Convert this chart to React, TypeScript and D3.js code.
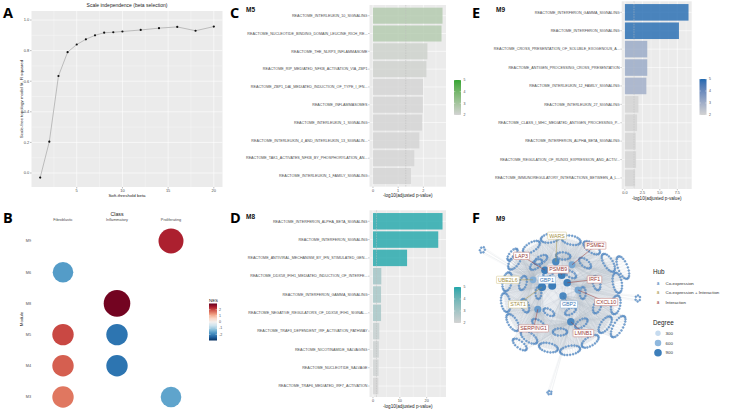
import React from 'react';
import * as d3 from 'd3';

const FONT = "'Liberation Sans', Arial, Helvetica, sans-serif";

// ---------- Panel A data ----------
const betaValues = [1, 2, 3, 4, 5, 6, 7, 8, 9, 10, 12, 14, 16, 18, 20];
const rSquared = [-0.03, 0.205, 0.634, 0.79, 0.84, 0.874, 0.9, 0.917, 0.92, 0.925, 0.935, 0.947, 0.955, 0.93, 0.957];
const betaTicks = [5, 10, 15, 20];
const rsqTicks = [0, 0.2, 0.4, 0.6, 0.8, 1.0];

// ---------- Panel B data ----------
const classNames = ['Fibroblastic', 'Inflammatory', 'Proliferating'];
const moduleNames = ['M9', 'M6', 'M8', 'M5', 'M4', 'M3'];
const dotModule = ['M9', 'M6', 'M8', 'M5', 'M5', 'M4', 'M4', 'M3', 'M3'];
const dotClass = ['Proliferating', 'Fibroblastic', 'Inflammatory', 'Fibroblastic', 'Inflammatory', 'Fibroblastic', 'Inflammatory', 'Fibroblastic', 'Proliferating'];
const dotNES = [2.4, -1.7, 2.9, 2.0, -2.2, 1.8, -2.2, 1.6, -1.6];
const dotSig = [3.53, 2.4, 4.0, 2.59, 2.59, 2.59, 2.59, 2.59, 2.4];
const nesTicks = [2, 1, 0, -1, -2];

// ---------- Panel C data (M5) ----------
const m5Pathways = [
  'REACTOME_INTERLEUKIN_10_SIGNALING',
  'REACTOME_NUCLEOTIDE_BINDING_DOMAIN_LEUCINE_RICH_RE...',
  'REACTOME_THE_NLRP3_INFLAMMASOME',
  'REACTOME_RIP_MEDIATED_NFKB_ACTIVATION_VIA_ZBP1',
  'REACTOME_ZBP1_DAI_MEDIATED_INDUCTION_OF_TYPE_I_IFN...',
  'REACTOME_INFLAMMASOMES',
  'REACTOME_INTERLEUKIN_1_SIGNALING',
  'REACTOME_INTERLEUKIN_4_AND_INTERLEUKIN_13_SIGNALIN...',
  'REACTOME_TAK1_ACTIVATES_NFKB_BY_PHOSPHORYLATION_AN...',
  'REACTOME_INTERLEUKIN_1_FAMILY_SIGNALING',
];
const m5Values = [2.76, 2.72, 2.16, 2.12, 1.99, 1.98, 1.95, 1.84, 1.64, 1.51];
const m5Ticks = [0, 1, 2];

// ---------- Panel D data (M8) ----------
const m8Pathways = [
  'REACTOME_INTERFERON_ALPHA_BETA_SIGNALING',
  'REACTOME_INTERFERON_SIGNALING',
  'REACTOME_ANTIVIRAL_MECHANISM_BY_IFN_STIMULATED_GEN...',
  'REACTOME_DDX58_IFIH1_MEDIATED_INDUCTION_OF_INTERFE...',
  'REACTOME_INTERFERON_GAMMA_SIGNALING',
  'REACTOME_NEGATIVE_REGULATORS_OF_DDX58_IFIH1_SIGNAL...',
  'REACTOME_TRAF3_DEPENDENT_IRF_ACTIVATION_PATHWAY',
  'REACTOME_NICOTINAMIDE_SALVAGING',
  'REACTOME_NUCLEOTIDE_SALVAGE',
  'REACTOME_TRAF6_MEDIATED_IRF7_ACTIVATION',
];
const m8Values = [25.9, 24.3, 12.7, 3.1, 3.0, 3.0, 2.35, 2.2, 2.1, 2.0];
const m8Ticks = [0, 10, 20];

// ---------- Panel E data (M9) ----------
const m9Pathways = [
  'REACTOME_INTERFERON_GAMMA_SIGNALING',
  'REACTOME_INTERFERON_SIGNALING',
  'REACTOME_CROSS_PRESENTATION_OF_SOLUBLE_EXOGENOUS_A...',
  'REACTOME_ANTIGEN_PROCESSING_CROSS_PRESENTATION',
  'REACTOME_INTERLEUKIN_12_FAMILY_SIGNALING',
  'REACTOME_INTERLEUKIN_27_SIGNALING',
  'REACTOME_CLASS_I_MHC_MEDIATED_ANTIGEN_PROCESSING_P...',
  'REACTOME_INTERFERON_ALPHA_BETA_SIGNALING',
  'REACTOME_REGULATION_OF_RUNX3_EXPRESSION_AND_ACTIV...',
  'REACTOME_IMMUNOREGULATORY_INTERACTIONS_BETWEEN_A_L...',
];
const m9Values = [9.1, 7.73, 3.2, 3.2, 3.07, 1.93, 1.75, 1.56, 1.6, 1.46];
const m9Ticks = [0, 2.5, 5, 7.5];
const legendTicks = [5, 4, 3, 2];

// ---------- Panel F data (M9 network) ----------
const hubNames = ['WARS', 'PSME2', 'LAP3', 'PSMB9', 'UBE2L6', 'GBP1', 'IRF1', 'STAT1', 'GBP2', 'CXCL10', 'SERPING1', 'LMNB1'];
const hubTypes = ['Co-expression + Interaction', 'Interaction', 'Interaction', 'Interaction', 'Co-expression + Interaction', 'Co-expression', 'Interaction', 'Co-expression + Interaction', 'Co-expression', 'Interaction', 'Interaction', 'Interaction'];
const hubDegree = [850, 700, 900, 950, 650, 1000, 900, 1050, 850, 700, 750, 850];
const hubNodeU = [-0.07, 0.2, -0.25, 0.03, -0.45, -0.13, 0.12, -0.3, 0.05, 0.3, -0.37, 0.18];
const hubNodeV = [-0.52, -0.47, -0.38, -0.3, -0.22, -0.12, -0.17, -0.1, 0.05, -0.05, 0.27, 0.48];
const hubLabelU = [-0.05, 0.59, -0.64, -0.03, -0.87, -0.22, 0.575, -0.7, 0.15, 0.77, -0.44, 0.39];
const hubLabelV = [-0.955, -0.79, -0.62, -0.39, -0.22, -0.22, -0.225, 0.19, 0.19, 0.15, 0.59, 0.67];
// communities (angle in degrees, distance, tangential half-span, radial half-depth, node count)
const commAngle = [-100, -78, -55, -32, -10, 12, 35, 58, 80, 102, 125, 148, 170, 192, 215, 238, -120, -85, -50, -15, 20, 55, 90, 125, 160, 195, 230, -60, 0, 60, 120, 180, 240, -22, 30, -141, 128, -151, 96, 4];
const commDist = [0.93, 0.9, 0.92, 0.95, 0.97, 0.95, 0.92, 0.95, 0.97, 0.93, 0.9, 0.93, 0.92, 0.9, 0.92, 0.9, 0.64, 0.62, 0.65, 0.63, 0.66, 0.62, 0.65, 0.63, 0.62, 0.64, 0.62, 0.36, 0.38, 0.35, 0.37, 0.36, 0.38, 1.13, 1.12, 1.02, 1.09, 1.48, 1.67, 1.3];
const commSpan = [0.16, 0.16, 0.16, 0.17, 0.17, 0.16, 0.16, 0.16, 0.17, 0.16, 0.16, 0.16, 0.16, 0.16, 0.16, 0.16, 0.12, 0.12, 0.12, 0.12, 0.12, 0.12, 0.12, 0.12, 0.12, 0.12, 0.12, 0.1, 0.1, 0.1, 0.1, 0.1, 0.1, 0.2, 0.2, 0.12, 0.14, 0.05, 0.035, 0.05];
const commDepth = [0.075, 0.075, 0.075, 0.075, 0.075, 0.075, 0.075, 0.075, 0.075, 0.075, 0.075, 0.075, 0.075, 0.075, 0.075, 0.075, 0.06, 0.06, 0.06, 0.06, 0.06, 0.06, 0.06, 0.06, 0.06, 0.06, 0.06, 0.05, 0.05, 0.05, 0.05, 0.05, 0.05, 0.08, 0.08, 0.05, 0.06, 0.04, 0.03, 0.04];
const commSize = [20, 20, 20, 21, 21, 20, 20, 20, 21, 20, 20, 20, 20, 20, 20, 20, 15, 15, 15, 15, 15, 15, 15, 15, 15, 15, 15, 12, 12, 12, 12, 12, 12, 22, 22, 14, 16, 6, 5, 6];
const hubCategories = ['Co-expression', 'Co-expression + Interaction', 'Interaction'];
const degreeLegend = [300, 600, 900];

const typeText: Record<string, string> = { 'Co-expression': '#3A78B5', 'Co-expression + Interaction': '#A89244', 'Interaction': '#9A3B36' };
const typeBorder: Record<string, string> = { 'Co-expression': '#82ACD6', 'Co-expression + Interaction': '#D2C387', 'Interaction': '#C57A75' };

let measureCtx: CanvasRenderingContext2D | null = null;
function textWidth(s: string, size: number) {
  if (!measureCtx) measureCtx = document.createElement('canvas').getContext('2d');
  if (!measureCtx) return s.length * size * 0.6;
  measureCtx.font = `${size}px 'Liberation Sans', Arial, sans-serif`;
  return measureCtx.measureText(s).width;
}

function PanelA() {
  const x = d3.scaleLinear().domain([0.05, 20.95]).range([31.5, 222.5]);
  const y = d3.scaleLinear().domain([-0.0915, 1.059]).range([187, 11]);
  const xMinor = [2.5, 7.5, 12.5, 17.5];
  const yMinor = [0.1, 0.3, 0.5, 0.7, 0.9];
  const line = d3.line<number>().x((_, i) => x(betaValues[i])).y((d) => y(d));
  const [x0, x1] = x.range();
  const [y1, y0] = y.range();
  return (
    <g>
      <rect x={x0} y={y0} width={x1 - x0} height={y1 - y0} fill="#EBEBEB" />
      {xMinor.map((v) => <line key={'xm' + v} x1={x(v)} x2={x(v)} y1={y0} y2={y1} stroke="#fff" strokeWidth={0.3} />)}
      {yMinor.map((v) => <line key={'ym' + v} x1={x0} x2={x1} y1={y(v)} y2={y(v)} stroke="#fff" strokeWidth={0.3} />)}
      {betaTicks.map((v) => <line key={'xt' + v} x1={x(v)} x2={x(v)} y1={y0} y2={y1} stroke="#fff" strokeWidth={0.6} />)}
      {rsqTicks.map((v) => <line key={'yt' + v} x1={x0} x2={x1} y1={y(v)} y2={y(v)} stroke="#fff" strokeWidth={0.6} />)}
      <path d={line(rSquared) || ''} fill="none" stroke="#9A9A9A" strokeWidth={0.6} />
      {rSquared.map((d, i) => <circle key={i} cx={x(betaValues[i])} cy={y(d)} r={1.1} fill="#111" />)}
      {rsqTicks.map((v) => (
        <g key={'yl' + v}>
          <line x1={x0 - 1.5} x2={x0} y1={y(v)} y2={y(v)} stroke="#555" strokeWidth={0.4} />
          <text x={x0 - 2.3} y={y(v)} dy="0.35em" textAnchor="end" fontSize={4} fill="#4D4D4D">{v.toFixed(1)}</text>
        </g>
      ))}
      {betaTicks.map((v) => (
        <g key={'xl' + v}>
          <line x1={x(v)} x2={x(v)} y1={y1} y2={y1 + 1.5} stroke="#555" strokeWidth={0.4} />
          <text x={x(v)} y={y1 + 3.5} dy="0.35em" textAnchor="middle" fontSize={4} fill="#4D4D4D">{v}</text>
        </g>
      ))}
      <text x={(x0 + x1) / 2} y={195.2} dy="0.35em" textAnchor="middle" fontSize={4.4} fill="#222">Soft-threshold beta</text>
      <text transform={`translate(21,${(y0 + y1) / 2}) rotate(-90)`} dy="0.35em" textAnchor="middle" fontSize={4.4} fill="#222">Scale-free topology model fit, R squared</text>
      <text x={(x0 + x1) / 2} y={5.6} dy="0.35em" textAnchor="middle" fontSize={5} fill="#222">Scale independence (beta selection)</text>
    </g>
  );
}

function PanelB() {
  const x = d3.scalePoint<string>().domain(classNames).range([63, 171]);
  const y = d3.scalePoint<string>().domain(moduleNames).range([241, 397]);
  const r = d3.scaleSqrt().domain([0, 4]).range([0, 13.3]);
  const color = (v: number) => d3.interpolateRdBu((3 - v) / 6);
  const ly = d3.scaleLinear().domain([3, -3]).range([303.5, 340.5]);
  const stops = d3.range(0, 1.0001, 0.1);
  return (
    <g>
      <defs>
        <linearGradient id="nesGrad" x1="0" y1="0" x2="0" y2="1">
          {stops.map((t) => <stop key={t} offset={t} stopColor={d3.interpolateRdBu(t)} />)}
        </linearGradient>
      </defs>
      <text x={117} y={214} dy="0.35em" textAnchor="middle" fontSize={5.2} fill="#222">Class</text>
      {classNames.map((c) => (
        <text key={c} x={x(c)} y={219.5} dy="0.35em" textAnchor="middle" fontSize={3.8} fill="#4D4D4D">{c}</text>
      ))}
      {moduleNames.map((m) => (
        <text key={m} x={31} y={y(m)} dy="0.35em" textAnchor="end" fontSize={3.8} fill="#4D4D4D">{m}</text>
      ))}
      <text transform={`translate(21,319) rotate(-90)`} dy="0.35em" textAnchor="middle" fontSize={4.4} fill="#222">Module</text>
      {dotNES.map((v, i) => (
        <circle key={i} cx={x(dotClass[i])} cy={y(dotModule[i])} r={r(dotSig[i])} fill={color(v)} />
      ))}
      <text x={209} y={300.5} dy="0.35em" fontSize={4.4} fill="#222">NES</text>
      <rect x={209} y={303.5} width={8} height={37} fill="url(#nesGrad)" />
      {nesTicks.map((t) => (
        <g key={t}>
          <line x1={209} x2={210.5} y1={ly(t)} y2={ly(t)} stroke="#fff" strokeWidth={0.4} />
          <line x1={215.5} x2={217} y1={ly(t)} y2={ly(t)} stroke="#fff" strokeWidth={0.4} />
          <text x={219} y={ly(t)} dy="0.35em" fontSize={3.6} fill="#4D4D4D">{t}</text>
        </g>
      ))}
    </g>
  );
}

type BarProps = {
  id: string; title: string; labels: string[]; values: number[];
  x0: number; x1: number; y0: number; y1: number; ticks: number[];
  fmt: (v: number) => string; hi: string; lx: number; ly0: number; ly1: number;
  tx: number; ty: number;
};

function BarPanel(p: BarProps) {
  const { id, title, labels, values, x0, x1, y0, y1, ticks, fmt, hi, lx, ly0, ly1, tx, ty } = p;
  const max = d3.max(values) as number;
  const x = d3.scaleLinear().domain([-0.05 * max, 1.05 * max]).range([x0, x1]);
  const y = d3.scaleBand<string>().domain(labels).range([y0, y1]).paddingInner(0.1).paddingOuter(0.15);
  const fill = d3.scaleLinear<string>().domain([2, 5]).range(['#D3D3D3', hi]).interpolate(d3.interpolateLab).clamp(true);
  const step = ticks[1] - ticks[0];
  const [d0, d1] = x.domain();
  const minor = ticks.map((t) => t + step / 2).concat([ticks[0] - step / 2]).filter((v) => v > d0 && v < d1);
  const ls = d3.scaleLinear().domain([2, 5]).range([ly1, ly0]);
  const bw = y.bandwidth();
  const gstops = d3.range(0, 1.0001, 0.1);
  return (
    <g>
      <defs>
        <linearGradient id={id} x1="0" y1="1" x2="0" y2="0">
          {gstops.map((t) => <stop key={t} offset={t} stopColor={fill(2 + 3 * t)} />)}
        </linearGradient>
      </defs>
      <text x={tx} y={ty} dy="0.35em" fontSize={6.5} fontWeight="bold" fill="#111">{title}</text>
      <rect x={x0} y={y0} width={x1 - x0} height={y1 - y0} fill="#EBEBEB" />
      {minor.map((v) => <line key={'m' + v} x1={x(v)} x2={x(v)} y1={y0} y2={y1} stroke="#fff" strokeWidth={0.3} />)}
      {ticks.map((v) => <line key={'t' + v} x1={x(v)} x2={x(v)} y1={y0} y2={y1} stroke="#fff" strokeWidth={0.6} />)}
      {labels.map((l) => <line key={'h' + l} x1={x0} x2={x1} y1={(y(l) as number) + bw / 2} y2={(y(l) as number) + bw / 2} stroke="#fff" strokeWidth={0.6} />)}
      {labels.map((l, i) => (
        <rect key={'b' + l} x={x(0)} y={y(l)} width={x(values[i]) - x(0)} height={bw} fill={fill(values[i])} fillOpacity={0.8} />
      ))}
      <line x1={x(1.301)} x2={x(1.301)} y1={y0} y2={y1} stroke="#BDBDBD" strokeWidth={0.5} strokeDasharray="1.5,1" />
      {labels.map((l) => (
        <g key={'l' + l}>
          <line x1={x0 - 1.3} x2={x0} y1={(y(l) as number) + bw / 2} y2={(y(l) as number) + bw / 2} stroke="#555" strokeWidth={0.35} />
          <text x={x0 - 2} y={(y(l) as number) + bw / 2} dy="0.35em" textAnchor="end" fontSize={3.7} fill="#4D4D4D">{l}</text>
        </g>
      ))}
      {ticks.map((v) => (
        <g key={'x' + v}>
          <line x1={x(v)} x2={x(v)} y1={y1} y2={y1 + 1.3} stroke="#555" strokeWidth={0.35} />
          <text x={x(v)} y={y1 + 3.6} dy="0.35em" textAnchor="middle" fontSize={3.8} fill="#4D4D4D">{fmt(v)}</text>
        </g>
      ))}
      <text x={(x0 + x1) / 2} y={y1 + 9} dy="0.35em" textAnchor="middle" fontSize={4.6} fill="#222">-log10(adjusted p-value)</text>
      <rect x={lx} y={ly0} width={7} height={ly1 - ly0} fill={`url(#${id})`} />
      {legendTicks.map((t) => (
        <g key={'lg' + t}>
          <line x1={lx} x2={lx + 1.3} y1={ls(t)} y2={ls(t)} stroke="#fff" strokeWidth={0.4} />
          <line x1={lx + 5.7} x2={lx + 7} y1={ls(t)} y2={ls(t)} stroke="#fff" strokeWidth={0.4} />
          <text x={lx + 9.5} y={ls(t)} dy="0.35em" fontSize={3.5} fill="#4D4D4D">{t}</text>
        </g>
      ))}
    </g>
  );
}

function PanelF() {
  const nx = d3.scaleLinear().domain([-1, 1]).range([500, 620]);
  const ny = d3.scaleLinear().domain([-1, 1]).range([233, 353]);
  const rDeg = d3.scaleLinear().domain([300, 900]).range([2.7, 3.8]);
  const cDeg = d3.scaleLinear<string>().domain([300, 600, 900]).range(['#C6DBEF', '#8FB8DE', '#3D7EBA']).clamp(true);

  // layout ring nodes of each community; each node links to its two nearest hubs
  const nodes: { u: number; v: number; hubs: number[] }[] = [];
  commAngle.forEach((a, ci) => {
    const th = (a * Math.PI) / 180;
    const cu = commDist[ci] * Math.cos(th);
    const cv = commDist[ci] * Math.sin(th);
    const tu = -Math.sin(th), tv = Math.cos(th);
    const ru = Math.cos(th), rv = Math.sin(th);
    const order = hubNodeU.map((hu, hi) => ({ hi, d: (hu - cu) ** 2 + (hubNodeV[hi] - cv) ** 2 }))
      .sort((p, q) => p.d - q.d).map((o) => o.hi);
    const linked = commDist[ci] > 1.25 ? [order[0]] : [order[0], order[1], order[2]];
    for (let k = 0; k < commSize[ci]; k++) {
      const t = (2 * Math.PI * k) / commSize[ci];
      const u = cu + commSpan[ci] * Math.cos(t) * tu + commDepth[ci] * Math.sin(t) * ru;
      const v = cv + commSpan[ci] * Math.cos(t) * tv + commDepth[ci] * Math.sin(t) * rv;
      nodes.push({ u, v, hubs: linked });
    }
  });

  const labelFont = 5.3;
  return (
    <g>
      <text x={496} y={219} dy="0.35em" fontSize={6.5} fontWeight="bold" fill="#111">M9</text>
      <circle cx={nx(0)} cy={ny(0.02)} r={nx(0.93) - nx(0)} fill="#E3E7EC" fillOpacity={0.7} />
      <g>
        {nodes.map((n, i) => n.hubs.map((h) => (
          <line key={'e' + i + '_' + h} x1={nx(hubNodeU[h])} y1={ny(hubNodeV[h])} x2={nx(n.u)} y2={ny(n.v)} stroke="#B4BCC7" strokeOpacity={0.32} strokeWidth={0.35} />
        )))}
        {hubNames.map((_, i) => hubNames.map((__, j) => (j > i ? (
          <line key={'hh' + i + '_' + j} x1={nx(hubNodeU[i])} y1={ny(hubNodeV[i])} x2={nx(hubNodeU[j])} y2={ny(hubNodeV[j])} stroke="#B4BCC7" strokeOpacity={0.45} strokeWidth={0.3} />
        ) : null)))}
      </g>
      {nodes.map((n, i) => (
        <circle key={'n' + i} cx={nx(n.u)} cy={ny(n.v)} r={1.0} fill="#6E9FD2" stroke="#2F6BAA" strokeWidth={0.3} fillOpacity={0.9} />
      ))}
      {hubNames.map((h, i) => (
        <circle key={'hn' + h} cx={nx(hubNodeU[i])} cy={ny(hubNodeV[i])} r={rDeg(hubDegree[i])} fill={cDeg(hubDegree[i])} />
      ))}
      {hubNames.map((h, i) => (
        <line key={'hl' + h} x1={nx(hubNodeU[i])} y1={ny(hubNodeV[i])} x2={nx(hubLabelU[i])} y2={ny(hubLabelV[i])} stroke={typeText[hubTypes[i]]} strokeWidth={0.5} />
      ))}
      {hubNames.map((h, i) => {
        const w = textWidth(h, labelFont) + 3;
        const cx = nx(hubLabelU[i]);
        const cy = ny(hubLabelV[i]);
        return (
          <g key={'lb' + h}>
            <rect x={cx - w / 2} y={cy - 3.6} width={w} height={7.2} rx={0.6} fill="#fff" stroke={typeBorder[hubTypes[i]]} strokeWidth={0.5} />
            <text x={cx} y={cy} dy="0.35em" textAnchor="middle" fontSize={labelFont} fill={typeText[hubTypes[i]]}>{h}</text>
          </g>
        );
      })}
      {/* legend */}
      <text x={653} y={272} dy="0.35em" fontSize={6.3} fill="#222">Hub</text>
      {hubCategories.map((c, i) => (
        <g key={c}>
          <text x={658} y={283 + i * 9.5} dy="0.35em" textAnchor="middle" fontSize={4.6} fill={typeText[c]}>a</text>
          <text x={665.5} y={283 + i * 9.5} dy="0.35em" fontSize={4.4} fill="#333">{c}</text>
        </g>
      ))}
      <text x={653} y={323} dy="0.35em" fontSize={6.3} fill="#222">Degree</text>
      {degreeLegend.map((d, i) => (
        <g key={d}>
          <circle cx={658} cy={333.3 + i * 9.7} r={rDeg(d)} fill={cDeg(d)} />
          <text x={665.5} y={333.3 + i * 9.7} dy="0.35em" fontSize={4.4} fill="#333">{d}</text>
        </g>
      ))}
    </g>
  );
}

export default function App() {
  const letter = (s: string, x: number, y: number) => (
    <text key={s} x={x} y={y} fontSize={14.5} fontWeight="bold" fill="#000" fontFamily="'Open Sans', 'Liberation Sans', Arial, sans-serif">{s}</text>
  );
  return (
    <svg width={730} height={410} style={{ position: 'absolute', left: 0, top: 0, background: '#fff' }} fontFamily={FONT}>
      <rect width={730} height={410} fill="#fff" />
      <PanelA />
      <PanelB />
      <BarPanel id="gC" title="M5" labels={m5Pathways} values={m5Values} x0={369.5} x1={446} y0={5} y1={186.7}
        ticks={m5Ticks} fmt={(v) => String(v)} hi="#33A532" lx={454} ly0={80} ly1={115} tx={246} ty={10} />
      <BarPanel id="gD" title="M8" labels={m8Pathways} values={m8Values} x0={369.5} x1={446} y0={210.3} y1={397}
        ticks={m8Ticks} fmt={(v) => String(v)} hi="#1FA6AA" lx={454} ly0={287} ly1={323} tx={246} ty={217} />
      <BarPanel id="gE" title="M9" labels={m9Pathways} values={m9Values} x0={621.7} x1={691.7} y0={1.3} y1={189}
        ticks={m9Ticks} fmt={(v) => v.toFixed(1)} hi="#2169B0" lx={699.5} ly0={79} ly1={115} tx={496} ty={10} />
      <PanelF />
      {letter('A', 3, 18)}
      {letter('B', 3, 223)}
      {letter('C', 230, 18)}
      {letter('D', 230, 223)}
      {letter('E', 472, 18)}
      {letter('F', 472, 223)}
    </svg>
  );
}
